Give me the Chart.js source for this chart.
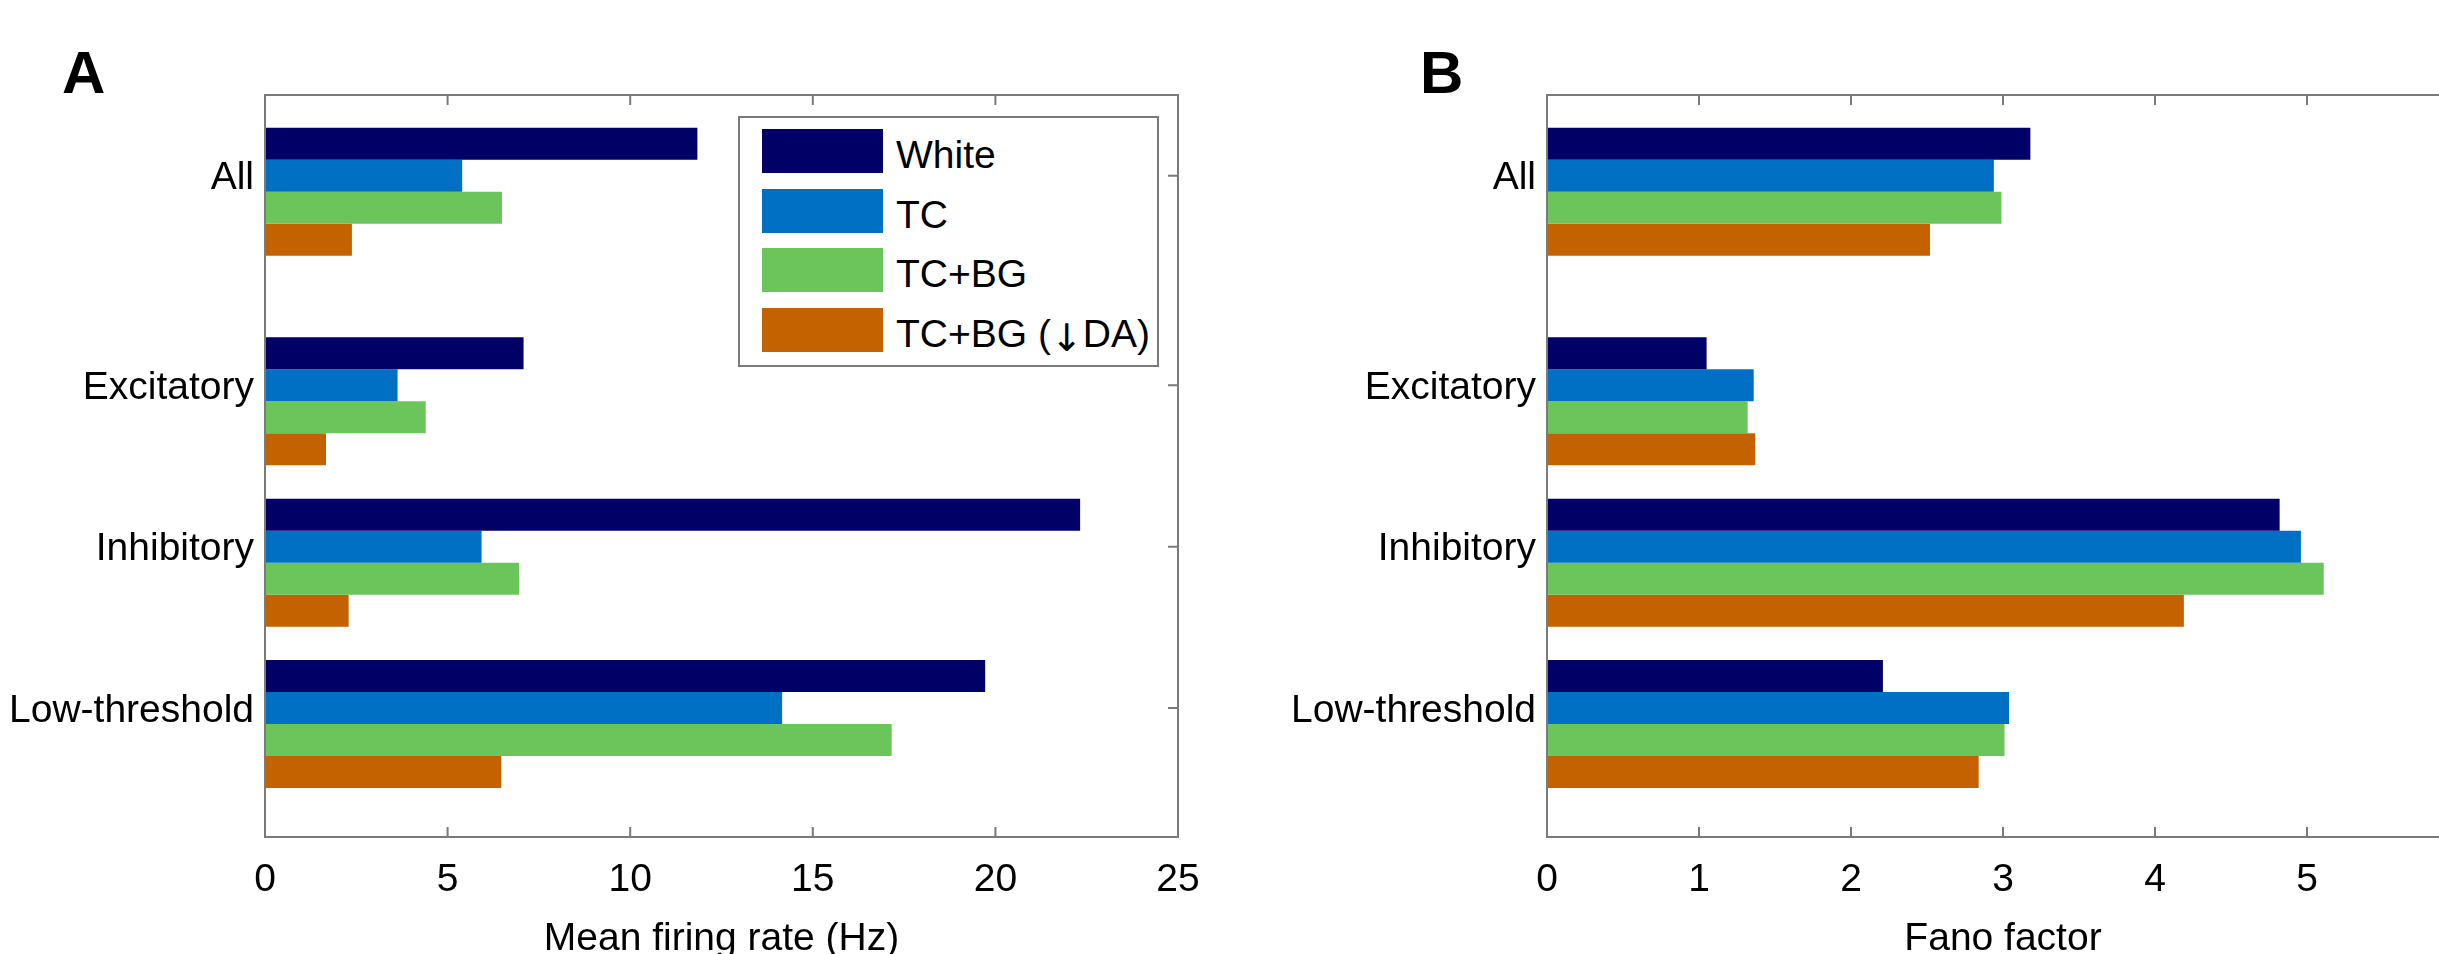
<!DOCTYPE html>
<html>
<head>
<meta charset="utf-8">
<script src="https://cdn.jsdelivr.net/npm/chart.js@4.4.1/dist/chart.umd.min.js"></script>
<style>
html, body { margin:0; padding:0; background:#fff; overflow:hidden; }
#wrap { position:relative; width:2439px; height:954px; overflow:hidden; }
canvas { position:absolute; top:0; }
#chartA { left:0; }
#chartB { left:1220px; }
.panel { position:absolute; top:43px; font:bold 60px "Liberation Sans", Arial, sans-serif; line-height:1; color:#000; }
#legend { position:absolute; left:738px; top:116px; width:421px; height:251px; box-sizing:border-box; border:2px solid #7a7a7a; background:#fff; }
.row { position:absolute; left:22px; height:44px; display:flex; align-items:center; font:39px "Liberation Sans", Arial, sans-serif; color:#000; white-space:nowrap; }
.row span { position:relative; top:4px; }
.arrow { font-family:"DejaVu Sans", sans-serif; font-size:38px; }
.sw { width:121px; height:44px; margin-right:13px; }
</style>
</head>
<body>
<div id="wrap">
  <canvas id="chartA" width="1220" height="954"></canvas>
  <canvas id="chartB" width="1281" height="954"></canvas>
  <div class="panel" style="left:62px">A</div>
  <div class="panel" style="left:1420px">B</div>
  <div id="legend"></div>
</div>
<script>
// categories and where they sit on the y axis (irregular, like the original figure)
const categories = ['All', 'Excitatory', 'Inhibitory', 'Low-threshold'];
const catPos = [0.7, 2, 3, 4];

const seriesNames = ['White', 'TC', 'TC+BG', 'TC+BG (\u2193DA)'];
const seriesColors = ['#000066', '#0070c4', '#6cc55a', '#c46200'];

// mean firing rate (Hz)
const rateWhite = [11.84, 7.08, 22.32, 19.72];
const rateTC    = [5.40, 3.63, 5.93, 14.16];
const rateTCBG  = [6.49, 4.40, 6.96, 17.16];
const rateDA    = [2.38, 1.67, 2.29, 6.47];

// Fano factor
const fanoWhite = [3.18, 1.05, 4.82, 2.21];
const fanoTC    = [2.94, 1.36, 4.96, 3.04];
const fanoTCBG  = [2.99, 1.32, 5.11, 3.01];
const fanoDA    = [2.52, 1.37, 4.19, 2.84];

const FONT = '"Liberation Sans", Arial, sans-serif';
const AXIS_COLOR = '#7a7a7a';

// matlab style box with inward ticks
const boxPlugin = {
    id: 'box',
    beforeDatasetsDraw(chart) {
        const {ctx, chartArea: a, scales: {x, y}} = chart;
        ctx.save();
        ctx.strokeStyle = AXIS_COLOR;
        ctx.lineWidth = 2;
        ctx.beginPath();
        x.ticks.forEach(t => {
            const px = x.getPixelForValue(t.value);
            ctx.moveTo(px, a.top); ctx.lineTo(px, a.top + 10);
            ctx.moveTo(px, a.bottom); ctx.lineTo(px, a.bottom - 10);
        });
        y.ticks.forEach(t => {
            const py = y.getPixelForValue(t.value);
            ctx.moveTo(a.left, py); ctx.lineTo(a.left + 10, py);
            ctx.moveTo(a.right, py); ctx.lineTo(a.right - 10, py);
        });
        ctx.stroke();
        ctx.restore();
    },
    afterDatasetsDraw(chart) {
        const {ctx, chartArea: a} = chart;
        ctx.save();
        ctx.strokeStyle = AXIS_COLOR;
        ctx.lineWidth = 2;
        ctx.strokeRect(a.left, a.top, a.right - a.left, a.bottom - a.top);
        ctx.restore();
    }
};

function makePanel(id, series, xMax, xStep, xTitle, yWidth) {
    const datasets = [
        // empty slot above each group, as in the original
        { label: '', data: catPos.map(p => ({x: null, y: p})), backgroundColor: 'rgba(0,0,0,0)' }
    ];
    series.forEach((vals, i) => {
        datasets.push({
            label: seriesNames[i],
            data: catPos.map((p, j) => ({x: vals[j], y: p})),
            backgroundColor: seriesColors[i],
            borderWidth: 0
        });
    });

    new Chart(document.getElementById(id), {
        type: 'bar',
        data: { datasets: datasets },
        options: {
            indexAxis: 'y',
            responsive: false,
            animation: false,
            categoryPercentage: 0.992,
            barPercentage: 1,
            layout: { padding: { top: 95, right: 42, left: 0, bottom: 0 } },
            plugins: {
                legend: { display: false },
                tooltip: { enabled: false }
            },
            scales: {
                x: {
                    type: 'linear',
                    min: 0,
                    max: xMax,
                    grid: { display: false, drawTicks: false },
                    border: { display: false },
                    ticks: { stepSize: xStep, padding: 20, color: '#000', font: { family: FONT, size: 39 } },
                    title: {
                        display: true, text: xTitle, color: '#000',
                        font: { family: FONT, size: 39, lineHeight: 1 },
                        padding: { top: 0, bottom: -5 }
                    },
                    afterFit: s => { s.height = 117; }
                },
                y: {
                    type: 'linear',
                    reverse: true,
                    offset: false,
                    min: 0.2,
                    max: 4.8,
                    grid: { display: false, drawTicks: false },
                    border: { display: false },
                    afterBuildTicks: s => { s.ticks = catPos.map(v => ({ value: v })); },
                    ticks: {
                        autoSkip: false,
                        padding: 11,
                        labelOffset: 3,
                        color: '#000',
                        font: { family: FONT, size: 39 },
                        callback: (v, i) => categories[i]
                    },
                    afterFit: s => { s.width = yWidth; }
                }
            }
        },
        plugins: [boxPlugin]
    });
}

makePanel('chartA', [rateWhite, rateTC, rateTCBG, rateDA], 25, 5, 'Mean firing rate (Hz)', 265);
makePanel('chartB', [fanoWhite, fanoTC, fanoTCBG, fanoDA], 6, 1, 'Fano factor', 327);

// legend (inside panel A)
const leg = document.getElementById('legend');
const rowTops = [11, 71, 130, 190];
seriesNames.forEach((name, i) => {
    const row = document.createElement('div');
    row.className = 'row';
    row.style.top = rowTops[i] + 'px';
    const sw = document.createElement('div');
    sw.className = 'sw';
    sw.style.background = seriesColors[i];
    const txt = document.createElement('span');
    // the arrow glyph is small in Liberation, use DejaVu for it
    txt.innerHTML = name.replace('\u2193', '<span class="arrow">\u2193</span>');
    row.appendChild(sw);
    row.appendChild(txt);
    leg.appendChild(row);
});
</script>
</body>
</html>
